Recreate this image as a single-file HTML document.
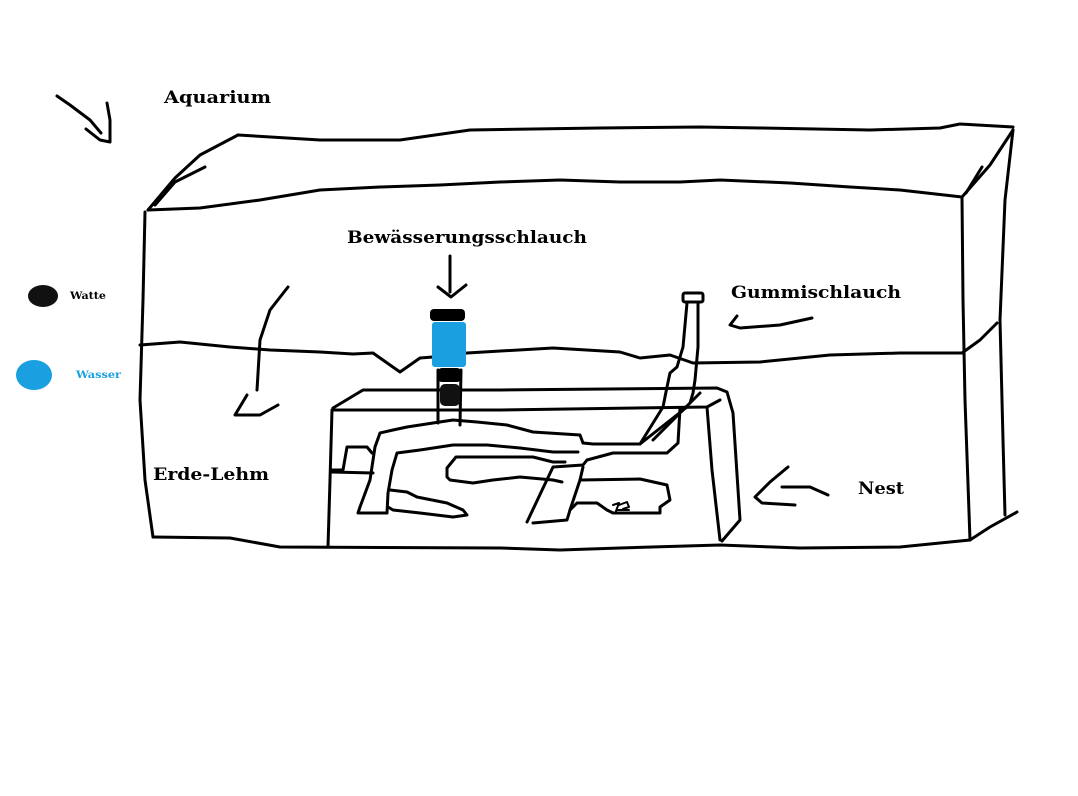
<!DOCTYPE html>
<html><head><meta charset="utf-8"><style>
html,body{margin:0;padding:0;background:#fff;width:1078px;height:796px;overflow:hidden}
svg{display:block}
text{font-family:"DejaVu Serif","Liberation Serif",serif;font-weight:bold}
</style></head><body>
<svg width="1078" height="796" viewBox="0 0 1078 796" xmlns="http://www.w3.org/2000/svg">
<g fill="none" stroke="#000" stroke-width="3" stroke-linecap="round" stroke-linejoin="round">
<polyline points="57,96 70,105 90,120 101,133"/>
<polyline points="107,103 110,120 110,142 100,140 86,129"/>
<polyline points="238,135 320,140 400,140 470,130 600,128 700,127 760,128 870,130 940,128 960,124 1013,127"/>
<polyline points="148,210 200,208 260,200 320,190 380,187 440,185 500,182 560,180 620,182 680,182 720,180 790,183 850,187 900,190 962,197"/>
<polyline points="148,210 175,178 200,155 238,135"/>
<polyline points="155,205 175,182 205,167"/>
<polyline points="962,197 990,165 1013,130"/>
<polyline points="966,193 982,167"/>
<polyline points="1013,130 1005,200 1000,320 1003,440 1005,515"/>
<polyline points="962,353 980,340 997,323"/>
<polyline points="970,540 990,527 1017,512"/>
<polyline points="145,212 143,300 140,400 145,480 153,537"/>
<polyline points="153,537 230,538 280,547 500,548 560,550 620,548 720,545 800,548 900,547 970,540"/>
<polyline points="962,197 963,300 965,400 970,540"/>
<polyline points="140,345 180,342 230,347 270,350 320,352 353,354 373,353 390,365 400,372 420,358 433,357 467,353 553,348 620,352 640,358 670,355 693,363 760,362 830,355 900,353 962,353"/>
<polyline points="332,410 500,410 707,407 720,400"/>
<polyline points="333,408 363,390 500,390 717,388 727,392 733,413 740,520 722,541"/>
<polyline points="332,410 330,480 328,547"/>
<polyline points="707,407 712,470 720,540"/>
<polyline points="583,443 580,435 533,432 507,425 477,422 453,420 433,423 407,427 393,430 380,433 375,447 370,480 360,507 358,513 387,513 388,493 392,470 397,453 420,450 453,445 487,445 520,448 553,452 578,452"/>
<polyline points="527,522 553,467 583,465 587,460 613,453 667,453 678,443 680,408 687,407"/>
<polyline points="533,523 567,520 570,510 580,480 583,467"/>
<polyline points="580,480 640,479 667,485 670,500 660,507 660,513 613,513 607,510 597,503 577,503 570,510"/>
<polyline points="583,443 593,444 640,444 687,407"/>
<polyline points="653,440 700,393"/>
<polyline points="565,462 553,462 533,457 456,457 447,468 447,477 450,480 473,483 493,480 520,477 553,480 562,482"/>
<polyline points="332,470 343,470 347,447 367,447 372,453"/>
<polyline points="332,472 373,473"/>
<polyline points="390,490 407,492 417,497 447,503 463,510 467,515 453,517 420,513 393,510 388,507"/>
<path d="M613,505 l6,-2 l-3,8 M619,505 l8,-3 l2,5 l-6,2 M617,510 l12,0" stroke-width="2"/>
<rect x="683" y="293" width="20" height="9" rx="2"/>
<polyline points="687,303 683,347 677,367 670,373 667,387 663,407 640,444"/>
<polyline points="698,303 698,347 695,380 693,393 690,403"/>
<polyline points="438,370 438,423"/>
<polyline points="461,370 460,425"/>
<polyline points="288,287 270,310 260,340 257,390"/>
<polyline points="247,395 235,415 260,415 278,405"/>
<polyline points="812,318 780,325 740,328 730,325 737,316"/>
<polyline points="828,495 810,487 782,487"/>
<polyline points="788,467 770,482 755,497 762,503 795,505"/>
<polyline points="450,256 450,292"/>
<polyline points="438,287 451,297 466,285"/>
</g>
<rect x="430" y="309" width="35" height="12" rx="4" fill="#000"/>
<rect x="432" y="322" width="34" height="45" rx="3" fill="#1a9fe0"/>
<rect x="437" y="368" width="25" height="14" rx="5" fill="#000"/>
<rect x="440" y="384" width="20" height="22" rx="5" fill="#111"/>
<ellipse cx="43" cy="296" rx="15" ry="11" fill="#111"/>
<ellipse cx="34" cy="375" rx="18" ry="15" fill="#1a9fe0"/>
<text x="164" y="103" font-size="17" textLength="107" lengthAdjust="spacingAndGlyphs">Aquarium</text>
<text x="347" y="243" font-size="17" textLength="240" lengthAdjust="spacingAndGlyphs">Bewässerungsschlauch</text>
<text x="731" y="298" font-size="17" textLength="170" lengthAdjust="spacingAndGlyphs">Gummischlauch</text>
<text x="153" y="480" font-size="17" textLength="116" lengthAdjust="spacingAndGlyphs">Erde-Lehm</text>
<text x="858" y="494" font-size="17" textLength="46" lengthAdjust="spacingAndGlyphs">Nest</text>
<text x="70" y="299" font-size="10" textLength="36" lengthAdjust="spacingAndGlyphs">Watte</text>
<text x="76" y="378" font-size="10" fill="#1a9fe0" textLength="45" lengthAdjust="spacingAndGlyphs">Wasser</text>
</svg>
</body></html>
